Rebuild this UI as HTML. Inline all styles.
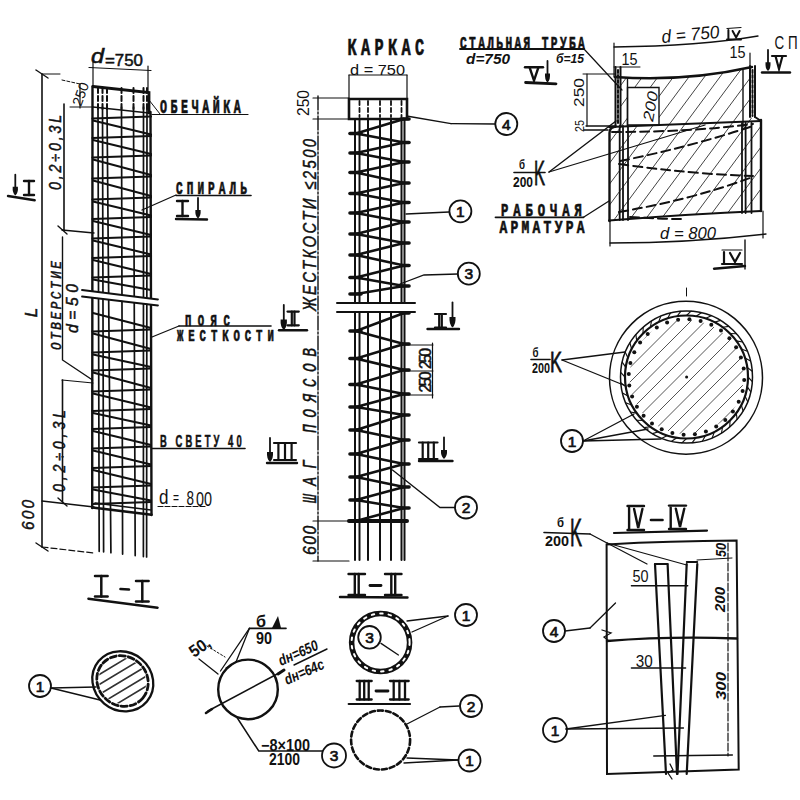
<!DOCTYPE html>
<html><head><meta charset="utf-8"><style>
html,body{margin:0;padding:0;background:#fff;width:800px;height:800px;overflow:hidden}
svg{display:block}
</style></head><body>
<svg width="800" height="800" viewBox="0 0 800 800" stroke-linecap="round">
<rect width="800" height="800" fill="#fff"/>
<line x1="98.0" y1="107.0" x2="99.2" y2="551.3" stroke="#111" stroke-width="1.7" />
<line x1="102.5" y1="107.0" x2="103.6" y2="551.8" stroke="#111" stroke-width="1.7" />
<line x1="107.0" y1="107.0" x2="110.9" y2="552.7" stroke="#111" stroke-width="1.7" />
<line x1="121.5" y1="107.0" x2="122.6" y2="554.1" stroke="#111" stroke-width="1.7" />
<line x1="133.5" y1="107.0" x2="135.2" y2="555.6" stroke="#111" stroke-width="1.7" />
<line x1="143.5" y1="107.0" x2="143.4" y2="556.6" stroke="#111" stroke-width="1.7" />
<line x1="147.0" y1="107.0" x2="146.6" y2="557.0" stroke="#111" stroke-width="1.7" />
<line x1="92.5" y1="86.5" x2="92.2" y2="508.0" stroke="#111" stroke-width="2.4" />
<line x1="150.5" y1="112.0" x2="151.5" y2="515.0" stroke="#111" stroke-width="2.4" />
<path d="M93,86.5 L149,92.5 L149,113" stroke="#111" stroke-width="2.8" fill="none" />
<line x1="93.0" y1="107.0" x2="149.0" y2="113.0" stroke="#111" stroke-width="1.6" />
<line x1="98.0" y1="88.0" x2="98.0" y2="112.0" stroke="#111" stroke-width="2.0" stroke-dasharray="5,3"/>
<line x1="102.5" y1="88.0" x2="102.5" y2="112.0" stroke="#111" stroke-width="2.0" stroke-dasharray="5,3"/>
<line x1="107.0" y1="88.0" x2="107.0" y2="112.0" stroke="#111" stroke-width="2.0" stroke-dasharray="5,3"/>
<line x1="121.5" y1="88.0" x2="121.5" y2="112.0" stroke="#111" stroke-width="2.0" stroke-dasharray="5,3"/>
<line x1="133.5" y1="88.0" x2="133.5" y2="112.0" stroke="#111" stroke-width="2.0" stroke-dasharray="5,3"/>
<line x1="143.5" y1="88.0" x2="143.5" y2="112.0" stroke="#111" stroke-width="2.0" stroke-dasharray="5,3"/>
<line x1="147.0" y1="88.0" x2="147.0" y2="112.0" stroke="#111" stroke-width="2.0" stroke-dasharray="5,3"/>
<line x1="92.2" y1="507.5" x2="151.5" y2="514.7" stroke="#111" stroke-width="2.6" />
<line x1="95.0" y1="503.0" x2="151.0" y2="510.0" stroke="#111" stroke-width="1.6" />
<line x1="92.5" y1="118.5" x2="151.0" y2="116.5" stroke="#111" stroke-width="2.2" />
<line x1="93.0" y1="120.5" x2="151.0" y2="134.5" stroke="#111" stroke-width="2.2" />
<line x1="92.5" y1="138.0" x2="151.0" y2="136.0" stroke="#111" stroke-width="2.2" />
<line x1="93.0" y1="140.0" x2="151.0" y2="154.0" stroke="#111" stroke-width="2.2" />
<line x1="92.5" y1="157.5" x2="151.0" y2="155.5" stroke="#111" stroke-width="2.2" />
<line x1="93.0" y1="159.5" x2="151.0" y2="175.0" stroke="#111" stroke-width="2.2" />
<line x1="92.5" y1="178.5" x2="151.0" y2="176.5" stroke="#111" stroke-width="2.2" />
<line x1="93.0" y1="180.5" x2="151.0" y2="196.0" stroke="#111" stroke-width="2.2" />
<line x1="92.5" y1="199.5" x2="151.0" y2="197.5" stroke="#111" stroke-width="2.2" />
<line x1="93.0" y1="201.5" x2="151.0" y2="215.5" stroke="#111" stroke-width="2.2" />
<line x1="92.5" y1="219.0" x2="151.0" y2="217.0" stroke="#111" stroke-width="2.2" />
<line x1="93.0" y1="221.0" x2="151.0" y2="235.0" stroke="#111" stroke-width="2.2" />
<line x1="92.5" y1="238.5" x2="151.0" y2="236.5" stroke="#111" stroke-width="2.2" />
<line x1="93.0" y1="240.5" x2="151.0" y2="254.5" stroke="#111" stroke-width="2.2" />
<line x1="92.5" y1="258.0" x2="151.0" y2="256.0" stroke="#111" stroke-width="2.2" />
<line x1="93.0" y1="260.0" x2="151.0" y2="274.0" stroke="#111" stroke-width="2.2" />
<line x1="92.5" y1="277.5" x2="151.0" y2="275.5" stroke="#111" stroke-width="2.2" />
<line x1="92.5" y1="331.5" x2="151.0" y2="329.5" stroke="#111" stroke-width="2.2" />
<line x1="93.0" y1="333.5" x2="151.0" y2="349.0" stroke="#111" stroke-width="2.2" />
<line x1="92.5" y1="352.5" x2="151.0" y2="350.5" stroke="#111" stroke-width="2.2" />
<line x1="93.0" y1="354.5" x2="151.0" y2="367.0" stroke="#111" stroke-width="2.2" />
<line x1="92.5" y1="370.5" x2="151.0" y2="368.5" stroke="#111" stroke-width="2.2" />
<line x1="93.0" y1="372.5" x2="151.0" y2="388.0" stroke="#111" stroke-width="2.2" />
<line x1="92.5" y1="391.5" x2="151.0" y2="389.5" stroke="#111" stroke-width="2.2" />
<line x1="93.0" y1="393.5" x2="151.0" y2="407.5" stroke="#111" stroke-width="2.2" />
<line x1="92.5" y1="411.0" x2="151.0" y2="409.0" stroke="#111" stroke-width="2.2" />
<line x1="93.0" y1="413.0" x2="151.0" y2="425.5" stroke="#111" stroke-width="2.2" />
<line x1="92.5" y1="429.0" x2="151.0" y2="427.0" stroke="#111" stroke-width="2.2" />
<line x1="93.0" y1="431.0" x2="151.0" y2="445.0" stroke="#111" stroke-width="2.2" />
<line x1="92.5" y1="448.5" x2="151.0" y2="446.5" stroke="#111" stroke-width="2.2" />
<line x1="93.0" y1="450.5" x2="151.0" y2="464.5" stroke="#111" stroke-width="2.2" />
<line x1="92.5" y1="468.0" x2="151.0" y2="466.0" stroke="#111" stroke-width="2.2" />
<line x1="93.0" y1="470.0" x2="151.0" y2="484.0" stroke="#111" stroke-width="2.2" />
<line x1="92.5" y1="487.5" x2="151.0" y2="485.5" stroke="#111" stroke-width="2.2" />
<line x1="93.0" y1="489.5" x2="151.0" y2="500.5" stroke="#111" stroke-width="2.2" />
<line x1="92.5" y1="504.0" x2="151.0" y2="502.0" stroke="#111" stroke-width="2.2" />
<line x1="93.0" y1="279.5" x2="151.0" y2="290.0" stroke="#111" stroke-width="2.2" />
<line x1="93.0" y1="313.0" x2="151.0" y2="328.0" stroke="#111" stroke-width="2.2" />
<polygon points="82.0,290.0 158.0,299.5 158.0,305.0 82.0,296.0" stroke="#111" stroke-width="0" fill="#fff" />
<line x1="82.0" y1="290.0" x2="158.0" y2="299.5" stroke="#111" stroke-width="1.8" />
<line x1="82.0" y1="296.5" x2="158.0" y2="305.5" stroke="#111" stroke-width="1.8" />
<line x1="89.0" y1="67.5" x2="151.0" y2="70.5" stroke="#111" stroke-width="1.2" />
<line x1="93.0" y1="62.0" x2="93.0" y2="86.0" stroke="#111" stroke-width="1.2" />
<line x1="148.0" y1="66.0" x2="148.0" y2="92.0" stroke="#111" stroke-width="1.2" />
<line x1="42.0" y1="74.0" x2="42.0" y2="547.0" stroke="#111" stroke-width="1.6" />
<line x1="36.0" y1="70.0" x2="48.0" y2="78.0" stroke="#111" stroke-width="1.4" />
<line x1="36.0" y1="543.0" x2="48.0" y2="551.0" stroke="#111" stroke-width="1.4" />
<line x1="42.0" y1="74.0" x2="60.0" y2="74.0" stroke="#111" stroke-width="1.0" />
<line x1="64.0" y1="104.0" x2="64.0" y2="230.0" stroke="#111" stroke-width="1.6" />
<line x1="62.5" y1="380.0" x2="62.5" y2="502.0" stroke="#111" stroke-width="1.6" />
<line x1="62.0" y1="230.0" x2="94.0" y2="233.0" stroke="#111" stroke-width="1.4" />
<line x1="42.0" y1="501.0" x2="94.0" y2="507.0" stroke="#111" stroke-width="1.4" />
<line x1="42.0" y1="547.0" x2="94.0" y2="553.0" stroke="#111" stroke-width="1.2" stroke-dasharray="6,3"/>
<line x1="58.0" y1="226.0" x2="67.0" y2="234.0" stroke="#111" stroke-width="1.4" />
<line x1="58.0" y1="498.0" x2="67.0" y2="506.0" stroke="#111" stroke-width="1.4" />
<line x1="80.0" y1="84.0" x2="80.0" y2="108.0" stroke="#111" stroke-width="1.2" />
<line x1="70.0" y1="107.0" x2="93.0" y2="107.0" stroke="#111" stroke-width="1.0" />
<line x1="62.0" y1="80.0" x2="80.0" y2="84.0" stroke="#111" stroke-width="1.0" stroke-dasharray="3,2"/>
<path d="M62.5,237 L62.5,360 L92.5,380" stroke="#111" stroke-width="1.4" fill="none" />
<line x1="62.0" y1="380.0" x2="93.0" y2="383.0" stroke="#111" stroke-width="1.2" />
<line x1="355.0" y1="119.0" x2="355.0" y2="560.0" stroke="#111" stroke-width="2.0" />
<line x1="359.5" y1="119.0" x2="359.5" y2="560.0" stroke="#111" stroke-width="2.0" />
<line x1="368.0" y1="119.0" x2="368.0" y2="560.0" stroke="#111" stroke-width="2.0" />
<line x1="380.0" y1="119.0" x2="380.0" y2="560.0" stroke="#111" stroke-width="2.0" />
<line x1="391.0" y1="119.0" x2="391.0" y2="560.0" stroke="#111" stroke-width="2.0" />
<line x1="401.5" y1="119.0" x2="401.5" y2="560.0" stroke="#111" stroke-width="2.0" />
<line x1="404.5" y1="119.0" x2="404.5" y2="560.0" stroke="#111" stroke-width="2.0" />
<polygon points="349.0,99.0 407.0,99.0 407.0,119.0 349.0,119.0" stroke="#111" stroke-width="2.6" fill="none" />
<line x1="359.5" y1="101.0" x2="359.5" y2="117.0" stroke="#111" stroke-width="1.8" stroke-dasharray="4,3"/>
<line x1="368.0" y1="101.0" x2="368.0" y2="117.0" stroke="#111" stroke-width="1.8" stroke-dasharray="4,3"/>
<line x1="380.0" y1="101.0" x2="380.0" y2="117.0" stroke="#111" stroke-width="1.8" stroke-dasharray="4,3"/>
<line x1="391.0" y1="101.0" x2="391.0" y2="117.0" stroke="#111" stroke-width="1.8" stroke-dasharray="4,3"/>
<line x1="401.5" y1="101.0" x2="401.5" y2="117.0" stroke="#111" stroke-width="1.8" stroke-dasharray="4,3"/>
<path d="M404,119 L356,133.5 L404,142.5 L356,153 L404,162 L356,172.5 L404,183 L356,193.5 L404,202.5 L356,213 L404,222 L356,234 L404,243 L356,255 L404,265.5 L356,277.5 L404,286 L356,294" stroke="#111" stroke-width="2.6" fill="none" />
<path d="M404,313 L356,331 L404,344 L356,358.5 L404,370 L356,384.5 L404,394 L356,407 L404,415 L356,430 L404,440 L356,454 L404,464 L356,477 L404,487 L356,500 L404,508 L356,521" stroke="#111" stroke-width="2.6" fill="none" />
<line x1="401.0" y1="119.0" x2="409.0" y2="119.0" stroke="#111" stroke-width="3.6" />
<line x1="350.0" y1="133.5" x2="361.0" y2="133.5" stroke="#111" stroke-width="3.6" />
<line x1="401.0" y1="142.5" x2="409.0" y2="142.5" stroke="#111" stroke-width="3.6" />
<line x1="350.0" y1="153.0" x2="361.0" y2="153.0" stroke="#111" stroke-width="3.6" />
<line x1="401.0" y1="162.0" x2="409.0" y2="162.0" stroke="#111" stroke-width="3.6" />
<line x1="350.0" y1="172.5" x2="361.0" y2="172.5" stroke="#111" stroke-width="3.6" />
<line x1="401.0" y1="183.0" x2="409.0" y2="183.0" stroke="#111" stroke-width="3.6" />
<line x1="350.0" y1="193.5" x2="361.0" y2="193.5" stroke="#111" stroke-width="3.6" />
<line x1="401.0" y1="202.5" x2="409.0" y2="202.5" stroke="#111" stroke-width="3.6" />
<line x1="350.0" y1="213.0" x2="361.0" y2="213.0" stroke="#111" stroke-width="3.6" />
<line x1="401.0" y1="222.0" x2="409.0" y2="222.0" stroke="#111" stroke-width="3.6" />
<line x1="350.0" y1="234.0" x2="361.0" y2="234.0" stroke="#111" stroke-width="3.6" />
<line x1="401.0" y1="243.0" x2="409.0" y2="243.0" stroke="#111" stroke-width="3.6" />
<line x1="350.0" y1="255.0" x2="361.0" y2="255.0" stroke="#111" stroke-width="3.6" />
<line x1="401.0" y1="265.5" x2="409.0" y2="265.5" stroke="#111" stroke-width="3.6" />
<line x1="350.0" y1="277.5" x2="361.0" y2="277.5" stroke="#111" stroke-width="3.6" />
<line x1="401.0" y1="286.0" x2="409.0" y2="286.0" stroke="#111" stroke-width="3.6" />
<line x1="350.0" y1="294.0" x2="361.0" y2="294.0" stroke="#111" stroke-width="3.6" />
<line x1="401.0" y1="313.0" x2="409.0" y2="313.0" stroke="#111" stroke-width="3.6" />
<line x1="350.0" y1="331.0" x2="361.0" y2="331.0" stroke="#111" stroke-width="3.6" />
<line x1="401.0" y1="344.0" x2="409.0" y2="344.0" stroke="#111" stroke-width="3.6" />
<line x1="350.0" y1="358.5" x2="361.0" y2="358.5" stroke="#111" stroke-width="3.6" />
<line x1="401.0" y1="370.0" x2="409.0" y2="370.0" stroke="#111" stroke-width="3.6" />
<line x1="350.0" y1="384.5" x2="361.0" y2="384.5" stroke="#111" stroke-width="3.6" />
<line x1="401.0" y1="394.0" x2="409.0" y2="394.0" stroke="#111" stroke-width="3.6" />
<line x1="350.0" y1="407.0" x2="361.0" y2="407.0" stroke="#111" stroke-width="3.6" />
<line x1="401.0" y1="415.0" x2="409.0" y2="415.0" stroke="#111" stroke-width="3.6" />
<line x1="350.0" y1="430.0" x2="361.0" y2="430.0" stroke="#111" stroke-width="3.6" />
<line x1="401.0" y1="440.0" x2="409.0" y2="440.0" stroke="#111" stroke-width="3.6" />
<line x1="350.0" y1="454.0" x2="361.0" y2="454.0" stroke="#111" stroke-width="3.6" />
<line x1="401.0" y1="464.0" x2="409.0" y2="464.0" stroke="#111" stroke-width="3.6" />
<line x1="350.0" y1="477.0" x2="361.0" y2="477.0" stroke="#111" stroke-width="3.6" />
<line x1="401.0" y1="487.0" x2="409.0" y2="487.0" stroke="#111" stroke-width="3.6" />
<line x1="350.0" y1="500.0" x2="361.0" y2="500.0" stroke="#111" stroke-width="3.6" />
<line x1="401.0" y1="508.0" x2="409.0" y2="508.0" stroke="#111" stroke-width="3.6" />
<line x1="350.0" y1="521.0" x2="361.0" y2="521.0" stroke="#111" stroke-width="3.6" />
<line x1="349.0" y1="521.0" x2="407.0" y2="521.0" stroke="#111" stroke-width="4.0" />
<rect x="336" y="303" width="80" height="9" fill="#fff"/>
<line x1="337.0" y1="303.0" x2="415.0" y2="303.0" stroke="#111" stroke-width="2.0" />
<line x1="337.0" y1="312.0" x2="415.0" y2="312.0" stroke="#111" stroke-width="2.0" />
<line x1="318.0" y1="96.0" x2="318.0" y2="561.0" stroke="#111" stroke-width="1.4" stroke-dasharray="14,2,2,2"/>
<line x1="313.0" y1="98.0" x2="349.0" y2="98.0" stroke="#111" stroke-width="1.2" />
<line x1="313.0" y1="119.0" x2="349.0" y2="119.0" stroke="#111" stroke-width="1.2" />
<line x1="313.0" y1="521.0" x2="349.0" y2="521.0" stroke="#111" stroke-width="1.2" />
<line x1="313.0" y1="561.0" x2="349.0" y2="561.0" stroke="#111" stroke-width="1.2" />
<line x1="349.0" y1="75.0" x2="407.0" y2="75.0" stroke="#111" stroke-width="1.2" />
<line x1="349.0" y1="75.0" x2="349.0" y2="99.0" stroke="#111" stroke-width="1.2" />
<line x1="407.0" y1="75.0" x2="407.0" y2="99.0" stroke="#111" stroke-width="1.2" />
<line x1="405.0" y1="345.0" x2="433.0" y2="345.0" stroke="#111" stroke-width="1.0" />
<line x1="405.0" y1="371.0" x2="433.0" y2="371.0" stroke="#111" stroke-width="1.0" />
<line x1="405.0" y1="395.0" x2="433.0" y2="395.0" stroke="#111" stroke-width="1.0" />
<line x1="432.5" y1="343.0" x2="432.5" y2="398.0" stroke="#111" stroke-width="1.2" />
<defs><clipPath id="cp1"><path d="M620,77 Q685,82 750,67 L750,117 L761,121 L761,211 Q690,214 609,220.5 L609,124 L620,124 Z"/></clipPath><clipPath id="cp2"><circle cx="686.5" cy="377" r="57"/></clipPath></defs>
<path d="M250.0,230 L376.0,60 M265.5,230 L391.5,60 M281.0,230 L407.0,60 M296.5,230 L422.5,60 M312.0,230 L438.0,60 M327.5,230 L453.5,60 M343.0,230 L469.0,60 M358.5,230 L484.5,60 M374.0,230 L500.0,60 M389.5,230 L515.5,60 M405.0,230 L531.0,60 M420.5,230 L546.5,60 M436.0,230 L562.0,60 M451.5,230 L577.5,60 M467.0,230 L593.0,60 M482.5,230 L608.5,60 M498.0,230 L624.0,60 M513.5,230 L639.5,60 M529.0,230 L655.0,60 M544.5,230 L670.5,60 M560.0,230 L686.0,60 M575.5,230 L701.5,60 M591.0,230 L717.0,60 M606.5,230 L732.5,60 M622.0,230 L748.0,60 M637.5,230 L763.5,60 M653.0,230 L779.0,60 M668.5,230 L794.5,60 M684.0,230 L810.0,60 M699.5,230 L825.5,60 M715.0,230 L841.0,60 M730.5,230 L856.5,60 M746.0,230 L872.0,60 M761.5,230 L887.5,60 M777.0,230 L903.0,60 M792.5,230 L918.5,60 M808.0,230 L934.0,60 M823.5,230 L949.5,60 M839.0,230 L965.0,60 M854.5,230 L980.5,60 M870.0,230 L996.0,60 M885.5,230 L1011.5,60 M901.0,230 L1027.0,60 M916.5,230 L1042.5,60 M932.0,230 L1058.0,60 M947.5,230 L1073.5,60 M963.0,230 L1089.0,60 M978.5,230 L1104.5,60 M994.0,230 L1120.0,60 M1009.5,230 L1135.5,60" stroke="#444" stroke-width="1.0" clip-path="url(#cp1)" fill="none"/>
<polygon points="627.5,87.5 659.0,87.5 659.0,125.0 627.5,125.0" stroke="#111" stroke-width="1.4" fill="#fff" />
<path d="M615,77 Q685,82 752,67" stroke="#111" stroke-width="2.4" fill="none" />
<line x1="615.5" y1="67.0" x2="615.5" y2="127.0" stroke="#111" stroke-width="2.0" />
<line x1="620.5" y1="67.0" x2="620.5" y2="127.0" stroke="#111" stroke-width="2.0" />
<line x1="618.0" y1="70.0" x2="618.0" y2="125.0" stroke="#111" stroke-width="2.0" stroke-dasharray="3,2"/>
<line x1="750.0" y1="66.0" x2="750.0" y2="117.0" stroke="#111" stroke-width="2.0" />
<line x1="755.0" y1="66.0" x2="755.0" y2="117.0" stroke="#111" stroke-width="2.0" />
<line x1="752.5" y1="70.0" x2="752.5" y2="116.0" stroke="#111" stroke-width="2.0" stroke-dasharray="3,2"/>
<line x1="627.5" y1="78.0" x2="627.5" y2="127.0" stroke="#111" stroke-width="1.4" />
<line x1="743.0" y1="70.0" x2="743.0" y2="127.0" stroke="#111" stroke-width="1.4" />
<path d="M609,127 Q690,124 761,121" stroke="#111" stroke-width="2.0" fill="none" />
<path d="M755,117 L761,121" stroke="#111" stroke-width="2.0" fill="none" />
<path d="M609.5,221 L609.5,133 Q609.5,128 614,127" stroke="#111" stroke-width="2.4" fill="none" />
<line x1="761.0" y1="120.0" x2="761.0" y2="211.0" stroke="#111" stroke-width="2.4" />
<line x1="619.7" y1="126.0" x2="619.7" y2="220.0" stroke="#111" stroke-width="1.8" />
<line x1="623.0" y1="126.0" x2="623.0" y2="220.0" stroke="#111" stroke-width="1.8" />
<line x1="628.0" y1="126.0" x2="628.0" y2="220.0" stroke="#111" stroke-width="1.8" />
<line x1="742.0" y1="123.0" x2="742.0" y2="213.0" stroke="#111" stroke-width="1.8" />
<line x1="745.6" y1="123.0" x2="745.6" y2="213.0" stroke="#111" stroke-width="1.8" />
<line x1="751.5" y1="123.0" x2="751.5" y2="213.0" stroke="#111" stroke-width="1.8" />
<path d="M609,220.5 Q690,214 761,211" stroke="#111" stroke-width="2.2" fill="none" />
<path d="M612,132 Q690,132 753,124" stroke="#111" stroke-width="2.0" fill="none" stroke-dasharray="9,5"/>
<path d="M620,161 Q690,147 753,126" stroke="#111" stroke-width="2.0" fill="none" stroke-dasharray="9,5"/>
<path d="M619,164 Q690,174 753,176" stroke="#111" stroke-width="2.0" fill="none" stroke-dasharray="9,5"/>
<path d="M619,212 Q690,200 750,178" stroke="#111" stroke-width="2.0" fill="none" stroke-dasharray="9,5"/>
<path d="M630,217 Q660,219 681,219" stroke="#111" stroke-width="2.0" fill="none" stroke-dasharray="9,5"/>
<path d="M614,47 Q700,46 758,36" stroke="#111" stroke-width="1.3" fill="none" />
<line x1="614.0" y1="43.0" x2="614.0" y2="77.0" stroke="#111" stroke-width="1.2" />
<line x1="614.0" y1="67.0" x2="640.0" y2="67.0" stroke="#111" stroke-width="1.0" />
<line x1="750.0" y1="53.0" x2="750.0" y2="66.0" stroke="#111" stroke-width="1.2" />
<line x1="587.0" y1="74.0" x2="587.0" y2="126.0" stroke="#111" stroke-width="1.2" />
<line x1="583.0" y1="74.0" x2="615.0" y2="74.0" stroke="#111" stroke-width="1.0" />
<line x1="586.0" y1="126.0" x2="616.0" y2="126.0" stroke="#111" stroke-width="1.3" />
<line x1="584.0" y1="130.0" x2="608.0" y2="130.0" stroke="#111" stroke-width="1.3" />
<path d="M610,243 Q690,243 766,234" stroke="#111" stroke-width="1.3" fill="none" />
<line x1="610.0" y1="221.0" x2="610.0" y2="246.0" stroke="#111" stroke-width="1.2" />
<line x1="763.0" y1="211.0" x2="763.0" y2="238.0" stroke="#111" stroke-width="1.2" />
<line x1="584.0" y1="49.0" x2="622.0" y2="90.0" stroke="#111" stroke-width="1.2" />
<line x1="549.0" y1="172.0" x2="616.0" y2="121.0" stroke="#111" stroke-width="1.4" />
<line x1="549.0" y1="172.0" x2="705.0" y2="125.0" stroke="#111" stroke-width="1.3" />
<line x1="583.5" y1="217.3" x2="609.0" y2="201.0" stroke="#111" stroke-width="1.3" />
<line x1="460.0" y1="49.0" x2="584.0" y2="49.0" stroke="#111" stroke-width="1.8" />
<line x1="514.0" y1="172.5" x2="545.0" y2="172.5" stroke="#111" stroke-width="1.6" />
<line x1="495.5" y1="217.3" x2="583.5" y2="217.3" stroke="#111" stroke-width="1.8" />
<line x1="406.5" y1="116.0" x2="451.0" y2="123.6" stroke="#111" stroke-width="1.3" />
<line x1="451.0" y1="123.6" x2="495.0" y2="124.0" stroke="#111" stroke-width="1.3" />
<line x1="406.0" y1="214.0" x2="449.0" y2="212.0" stroke="#111" stroke-width="1.3" />
<path d="M400,284 L424,275 L458,274" stroke="#111" stroke-width="1.3" fill="none" />
<path d="M392.5,470 L440,507.5 L455,507.5" stroke="#111" stroke-width="1.3" fill="none" />
<circle cx="686" cy="377.7" r="76.5" stroke="#111" stroke-width="1.5" fill="none" />
<circle cx="686.5" cy="377" r="66" stroke="#111" stroke-width="1.5" fill="none" />
<circle cx="686.5" cy="377" r="61.5" stroke="#111" stroke-width="2.2" fill="none" />
<path d="M455.0,470 L635.0,290 M469.5,470 L649.5,290 M484.0,470 L664.0,290 M498.5,470 L678.5,290 M513.0,470 L693.0,290 M527.5,470 L707.5,290 M542.0,470 L722.0,290 M556.5,470 L736.5,290 M571.0,470 L751.0,290 M585.5,470 L765.5,290 M600.0,470 L780.0,290 M614.5,470 L794.5,290 M629.0,470 L809.0,290 M643.5,470 L823.5,290 M658.0,470 L838.0,290 M672.5,470 L852.5,290 M687.0,470 L867.0,290 M701.5,470 L881.5,290 M716.0,470 L896.0,290 M730.5,470 L910.5,290 M745.0,470 L925.0,290 M759.5,470 L939.5,290" stroke="#555" stroke-width="1.0" clip-path="url(#cp2)" fill="none"/>
<circle cx="744.2" cy="379.9" r="2.0" fill="#111"/>
<circle cx="742.6" cy="391.1" r="2.0" fill="#111"/>
<circle cx="738.7" cy="401.8" r="2.0" fill="#111"/>
<circle cx="732.9" cy="411.5" r="2.0" fill="#111"/>
<circle cx="725.3" cy="419.9" r="2.0" fill="#111"/>
<circle cx="716.2" cy="426.6" r="2.0" fill="#111"/>
<circle cx="705.9" cy="431.4" r="2.0" fill="#111"/>
<circle cx="694.9" cy="434.2" r="2.0" fill="#111"/>
<circle cx="683.6" cy="434.7" r="2.0" fill="#111"/>
<circle cx="672.4" cy="433.1" r="2.0" fill="#111"/>
<circle cx="661.7" cy="429.2" r="2.0" fill="#111"/>
<circle cx="652.0" cy="423.4" r="2.0" fill="#111"/>
<circle cx="643.6" cy="415.8" r="2.0" fill="#111"/>
<circle cx="636.9" cy="406.7" r="2.0" fill="#111"/>
<circle cx="632.1" cy="396.4" r="2.0" fill="#111"/>
<circle cx="629.3" cy="385.4" r="2.0" fill="#111"/>
<circle cx="628.8" cy="374.1" r="2.0" fill="#111"/>
<circle cx="630.4" cy="362.9" r="2.0" fill="#111"/>
<circle cx="634.3" cy="352.2" r="2.0" fill="#111"/>
<circle cx="640.1" cy="342.5" r="2.0" fill="#111"/>
<circle cx="647.7" cy="334.1" r="2.0" fill="#111"/>
<circle cx="656.8" cy="327.4" r="2.0" fill="#111"/>
<circle cx="667.1" cy="322.6" r="2.0" fill="#111"/>
<circle cx="678.1" cy="319.8" r="2.0" fill="#111"/>
<circle cx="689.4" cy="319.3" r="2.0" fill="#111"/>
<circle cx="700.6" cy="320.9" r="2.0" fill="#111"/>
<circle cx="711.3" cy="324.8" r="2.0" fill="#111"/>
<circle cx="721.0" cy="330.6" r="2.0" fill="#111"/>
<circle cx="729.4" cy="338.2" r="2.0" fill="#111"/>
<circle cx="736.1" cy="347.3" r="2.0" fill="#111"/>
<circle cx="740.9" cy="357.6" r="2.0" fill="#111"/>
<circle cx="743.7" cy="368.6" r="2.0" fill="#111"/>
<line x1="748.0" y1="377.0" x2="752.3" y2="381.6" stroke="#111" stroke-width="1.1" />
<line x1="747.2" y1="386.6" x2="750.8" y2="391.9" stroke="#111" stroke-width="1.1" />
<line x1="745.0" y1="396.0" x2="747.7" y2="401.7" stroke="#111" stroke-width="1.1" />
<line x1="741.3" y1="404.9" x2="743.1" y2="411.0" stroke="#111" stroke-width="1.1" />
<line x1="736.3" y1="413.1" x2="737.1" y2="419.4" stroke="#111" stroke-width="1.1" />
<line x1="730.0" y1="420.5" x2="729.8" y2="426.8" stroke="#111" stroke-width="1.1" />
<line x1="722.6" y1="426.8" x2="721.5" y2="433.0" stroke="#111" stroke-width="1.1" />
<line x1="714.4" y1="431.8" x2="712.3" y2="437.8" stroke="#111" stroke-width="1.1" />
<line x1="705.5" y1="435.5" x2="702.5" y2="441.0" stroke="#111" stroke-width="1.1" />
<line x1="696.1" y1="437.7" x2="692.2" y2="442.7" stroke="#111" stroke-width="1.1" />
<line x1="686.5" y1="438.5" x2="681.9" y2="442.8" stroke="#111" stroke-width="1.1" />
<line x1="676.9" y1="437.7" x2="671.6" y2="441.3" stroke="#111" stroke-width="1.1" />
<line x1="667.5" y1="435.5" x2="661.8" y2="438.2" stroke="#111" stroke-width="1.1" />
<line x1="658.6" y1="431.8" x2="652.5" y2="433.6" stroke="#111" stroke-width="1.1" />
<line x1="650.4" y1="426.8" x2="644.1" y2="427.6" stroke="#111" stroke-width="1.1" />
<line x1="643.0" y1="420.5" x2="636.7" y2="420.3" stroke="#111" stroke-width="1.1" />
<line x1="636.7" y1="413.1" x2="630.5" y2="412.0" stroke="#111" stroke-width="1.1" />
<line x1="631.7" y1="404.9" x2="625.7" y2="402.8" stroke="#111" stroke-width="1.1" />
<line x1="628.0" y1="396.0" x2="622.5" y2="393.0" stroke="#111" stroke-width="1.1" />
<line x1="625.8" y1="386.6" x2="620.8" y2="382.7" stroke="#111" stroke-width="1.1" />
<line x1="625.0" y1="377.0" x2="620.7" y2="372.4" stroke="#111" stroke-width="1.1" />
<line x1="625.8" y1="367.4" x2="622.2" y2="362.1" stroke="#111" stroke-width="1.1" />
<line x1="628.0" y1="358.0" x2="625.3" y2="352.3" stroke="#111" stroke-width="1.1" />
<line x1="631.7" y1="349.1" x2="629.9" y2="343.0" stroke="#111" stroke-width="1.1" />
<line x1="636.7" y1="340.9" x2="635.9" y2="334.6" stroke="#111" stroke-width="1.1" />
<line x1="643.0" y1="333.5" x2="643.2" y2="327.2" stroke="#111" stroke-width="1.1" />
<line x1="650.4" y1="327.2" x2="651.5" y2="321.0" stroke="#111" stroke-width="1.1" />
<line x1="658.6" y1="322.2" x2="660.7" y2="316.2" stroke="#111" stroke-width="1.1" />
<line x1="667.5" y1="318.5" x2="670.5" y2="313.0" stroke="#111" stroke-width="1.1" />
<line x1="676.9" y1="316.3" x2="680.8" y2="311.3" stroke="#111" stroke-width="1.1" />
<line x1="686.5" y1="315.5" x2="691.1" y2="311.2" stroke="#111" stroke-width="1.1" />
<line x1="696.1" y1="316.3" x2="701.4" y2="312.7" stroke="#111" stroke-width="1.1" />
<line x1="705.5" y1="318.5" x2="711.2" y2="315.8" stroke="#111" stroke-width="1.1" />
<line x1="714.4" y1="322.2" x2="720.5" y2="320.4" stroke="#111" stroke-width="1.1" />
<line x1="722.6" y1="327.2" x2="728.9" y2="326.4" stroke="#111" stroke-width="1.1" />
<line x1="730.0" y1="333.5" x2="736.3" y2="333.7" stroke="#111" stroke-width="1.1" />
<line x1="736.3" y1="340.9" x2="742.5" y2="342.0" stroke="#111" stroke-width="1.1" />
<line x1="741.3" y1="349.1" x2="747.3" y2="351.2" stroke="#111" stroke-width="1.1" />
<line x1="745.0" y1="358.0" x2="750.5" y2="361.0" stroke="#111" stroke-width="1.1" />
<line x1="747.2" y1="367.4" x2="752.2" y2="371.3" stroke="#111" stroke-width="1.1" />
<circle cx="686.6" cy="377" r="1.5" fill="#111"/>
<line x1="686.5" y1="288.0" x2="686.5" y2="296.0" stroke="#111" stroke-width="1.0" />
<line x1="562.0" y1="360.0" x2="625.0" y2="352.0" stroke="#111" stroke-width="1.3" />
<line x1="562.0" y1="360.0" x2="626.0" y2="386.0" stroke="#111" stroke-width="1.3" />
<line x1="583.0" y1="441.0" x2="634.0" y2="414.0" stroke="#111" stroke-width="1.3" />
<line x1="583.0" y1="441.0" x2="648.0" y2="429.0" stroke="#111" stroke-width="1.3" />
<line x1="583.0" y1="441.0" x2="661.0" y2="439.0" stroke="#111" stroke-width="1.3" />
<ellipse cx="122.8" cy="681.3" rx="31.5" ry="29" stroke="#111" stroke-width="2.3" fill="none" transform="rotate(40 122.8 681.3)"/>
<ellipse cx="122.5" cy="681" rx="26.5" ry="24.5" stroke="#111" stroke-width="2.8" fill="none" stroke-dasharray="6,3" transform="rotate(40 122.5 681)"/>
<clipPath id="cp3"><ellipse cx="122.5" cy="681" rx="24.5" ry="22.5" transform="rotate(40 122.5 681)"/></clipPath>
<path d="M80,626 L165,575 M80,636 L165,585 M80,646 L165,595 M80,656 L165,605 M80,666 L165,615 M80,676 L165,625 M80,686 L165,635 M80,696 L165,645 M80,706 L165,655 M80,716 L165,665 M80,726 L165,675 M80,736 L165,685 M80,746 L165,695 M80,756 L165,705 M80,766 L165,715 M80,776 L165,725" stroke="#333" stroke-width="1.6" clip-path="url(#cp3)" fill="none"/>
<line x1="51.0" y1="688.0" x2="96.0" y2="687.0" stroke="#111" stroke-width="1.5" />
<line x1="51.0" y1="688.0" x2="100.0" y2="700.0" stroke="#111" stroke-width="1.5" />
<circle cx="248" cy="689.4" r="29.8" stroke="#111" stroke-width="2.4" fill="none" />
<line x1="208.0" y1="711.0" x2="280.0" y2="672.5" stroke="#111" stroke-width="1.5" />
<line x1="278.0" y1="674.0" x2="284.0" y2="670.0" stroke="#111" stroke-width="3" />
<line x1="212.0" y1="709.0" x2="206.0" y2="713.0" stroke="#111" stroke-width="2.6" />
<line x1="249.4" y1="628.4" x2="286.0" y2="628.4" stroke="#111" stroke-width="1.6" />
<path d="M249.4,628.4 L220.5,671" stroke="#111" stroke-width="1.3" fill="none" />
<path d="M249.4,628.4 L236,662" stroke="#111" stroke-width="1.3" fill="none" />
<path d="M226,668 L236,662" stroke="#111" stroke-width="1.3" fill="none" />
<line x1="199.0" y1="659.0" x2="218.0" y2="674.0" stroke="#111" stroke-width="1.3" />
<line x1="207.0" y1="646.0" x2="225.0" y2="657.0" stroke="#111" stroke-width="1.0" stroke-dasharray="2,2"/>
<line x1="294.0" y1="665.0" x2="327.0" y2="649.0" stroke="#111" stroke-width="1.4" />
<path d="M237,717.5 L258.75,751 L322.5,751" stroke="#111" stroke-width="1.5" fill="none" />
<circle cx="380.6" cy="642.5" r="29" stroke="#111" stroke-width="5.5" fill="none" />
<circle cx="380.6" cy="642.5" r="29" stroke="#fff" stroke-width="2" fill="none" stroke-dasharray="2.5,6"/>
<line x1="381.0" y1="643.4" x2="398.4" y2="655.0" stroke="#111" stroke-width="1.3" />
<line x1="407.0" y1="621.0" x2="448.0" y2="616.0" stroke="#111" stroke-width="1.3" />
<line x1="412.0" y1="632.0" x2="448.0" y2="616.0" stroke="#111" stroke-width="1.3" />
<circle cx="380.6" cy="740" r="29.5" stroke="#111" stroke-width="2.6" fill="none" stroke-dasharray="5,3"/>
<line x1="407.0" y1="724.0" x2="440.0" y2="707.0" stroke="#111" stroke-width="1.3" />
<line x1="440.0" y1="707.0" x2="459.0" y2="706.0" stroke="#111" stroke-width="1.3" />
<line x1="407.0" y1="758.0" x2="458.0" y2="760.0" stroke="#111" stroke-width="1.3" />
<line x1="404.0" y1="763.0" x2="458.0" y2="760.0" stroke="#111" stroke-width="1.3" />
<path d="M606.6,544.5 Q670,541 736.6,540.6 L738.7,769.6 Q670,772 607,774 Z" stroke="#111" stroke-width="2.0" fill="none" />
<path d="M607,641 Q670,636 737,638.5" stroke="#111" stroke-width="2.4" fill="none" />
<line x1="655.0" y1="564.0" x2="666.0" y2="774.0" stroke="#111" stroke-width="2.2" />
<line x1="667.6" y1="564.0" x2="677.0" y2="774.0" stroke="#111" stroke-width="2.2" />
<line x1="686.7" y1="564.0" x2="677.5" y2="774.0" stroke="#111" stroke-width="2.2" />
<line x1="697.3" y1="564.0" x2="686.7" y2="774.0" stroke="#111" stroke-width="2.2" />
<line x1="655.0" y1="564.0" x2="667.6" y2="564.0" stroke="#111" stroke-width="1.8" />
<line x1="686.7" y1="562.0" x2="697.3" y2="562.0" stroke="#111" stroke-width="1.8" />
<line x1="631.4" y1="585.7" x2="687.7" y2="585.7" stroke="#111" stroke-width="1.4" />
<line x1="631.4" y1="668.0" x2="685.6" y2="668.0" stroke="#111" stroke-width="1.4" />
<line x1="728.0" y1="543.0" x2="728.0" y2="756.0" stroke="#111" stroke-width="1.2" stroke-dasharray="8,2"/>
<line x1="697.0" y1="560.0" x2="732.0" y2="558.0" stroke="#111" stroke-width="1.0" />
<line x1="653.7" y1="756.0" x2="732.4" y2="755.0" stroke="#111" stroke-width="1.3" />
<line x1="590.0" y1="534.0" x2="607.0" y2="543.0" stroke="#111" stroke-width="1.3" />
<path d="M607,543 L647,564" stroke="#111" stroke-width="1.2" fill="none" />
<path d="M607,543 L686.7,565" stroke="#111" stroke-width="1.2" fill="none" />
<line x1="565.0" y1="631.0" x2="590.0" y2="628.0" stroke="#111" stroke-width="1.3" />
<line x1="590.0" y1="628.0" x2="615.5" y2="603.0" stroke="#111" stroke-width="1.3" />
<line x1="566.0" y1="729.0" x2="665.4" y2="715.4" stroke="#111" stroke-width="1.3" />
<line x1="566.0" y1="729.0" x2="683.5" y2="728.0" stroke="#111" stroke-width="1.3" />
<circle cx="40" cy="686" r="11" stroke="#111" stroke-width="1.8" fill="none" />
<text x="40" y="691.5" font-family="Liberation Sans" font-size="15.5" font-weight="normal" font-style="normal" text-anchor="middle" fill="#111" stroke="#111" stroke-width="0.7">1</text>
<circle cx="506.3" cy="124" r="11" stroke="#111" stroke-width="1.8" fill="none" />
<text x="506.3" y="129.5" font-family="Liberation Sans" font-size="15.5" font-weight="normal" font-style="normal" text-anchor="middle" fill="#111" stroke="#111" stroke-width="0.7">4</text>
<circle cx="460.4" cy="211.3" r="11" stroke="#111" stroke-width="1.8" fill="none" />
<text x="460.4" y="216.8" font-family="Liberation Sans" font-size="15.5" font-weight="normal" font-style="normal" text-anchor="middle" fill="#111" stroke="#111" stroke-width="0.7">1</text>
<circle cx="468.8" cy="273.7" r="11" stroke="#111" stroke-width="1.8" fill="none" />
<text x="468.8" y="279.2" font-family="Liberation Sans" font-size="15.5" font-weight="normal" font-style="normal" text-anchor="middle" fill="#111" stroke="#111" stroke-width="0.7">3</text>
<circle cx="466" cy="507.5" r="11" stroke="#111" stroke-width="1.8" fill="none" />
<text x="466" y="513.0" font-family="Liberation Sans" font-size="15.5" font-weight="normal" font-style="normal" text-anchor="middle" fill="#111" stroke="#111" stroke-width="0.7">2</text>
<circle cx="334" cy="755.5" r="12" stroke="#111" stroke-width="1.8" fill="none" />
<text x="334" y="761.0" font-family="Liberation Sans" font-size="15.5" font-weight="normal" font-style="normal" text-anchor="middle" fill="#111" stroke="#111" stroke-width="0.7">3</text>
<circle cx="466" cy="615" r="11" stroke="#111" stroke-width="1.8" fill="none" />
<text x="466" y="620.5" font-family="Liberation Sans" font-size="15.5" font-weight="normal" font-style="normal" text-anchor="middle" fill="#111" stroke="#111" stroke-width="0.7">1</text>
<circle cx="471" cy="706" r="11" stroke="#111" stroke-width="1.8" fill="none" />
<text x="471" y="711.5" font-family="Liberation Sans" font-size="15.5" font-weight="normal" font-style="normal" text-anchor="middle" fill="#111" stroke="#111" stroke-width="0.7">2</text>
<circle cx="469.5" cy="760.5" r="11" stroke="#111" stroke-width="1.8" fill="none" />
<text x="469.5" y="766.0" font-family="Liberation Sans" font-size="15.5" font-weight="normal" font-style="normal" text-anchor="middle" fill="#111" stroke="#111" stroke-width="0.7">1</text>
<circle cx="572" cy="441" r="11" stroke="#111" stroke-width="1.8" fill="none" />
<text x="572" y="446.5" font-family="Liberation Sans" font-size="15.5" font-weight="normal" font-style="normal" text-anchor="middle" fill="#111" stroke="#111" stroke-width="0.7">1</text>
<circle cx="554" cy="631" r="11" stroke="#111" stroke-width="1.8" fill="none" />
<text x="554" y="636.5" font-family="Liberation Sans" font-size="15.5" font-weight="normal" font-style="normal" text-anchor="middle" fill="#111" stroke="#111" stroke-width="0.7">4</text>
<circle cx="555" cy="730" r="12" stroke="#111" stroke-width="1.8" fill="none" />
<text x="555" y="735.5" font-family="Liberation Sans" font-size="15.5" font-weight="normal" font-style="normal" text-anchor="middle" fill="#111" stroke="#111" stroke-width="0.7">1</text>
<circle cx="369.5" cy="637.3" r="11.3" stroke="#111" stroke-width="1.8" fill="none" />
<text x="369.5" y="642.8" font-family="Liberation Sans" font-size="15.5" font-weight="normal" font-style="normal" text-anchor="middle" fill="#111" stroke="#111" stroke-width="0.7">3</text>
<text x="91" y="63" font-family="Liberation Sans" font-size="21" font-weight="normal" font-style="italic" text-anchor="start" textLength="13" lengthAdjust="spacingAndGlyphs" fill="#111" stroke="#111" stroke-width="0.6">d</text>
<text x="105" y="66" font-family="Liberation Sans" font-size="16.5" font-weight="normal" font-style="normal" text-anchor="start" textLength="38" lengthAdjust="spacingAndGlyphs" fill="#111" stroke="#111" stroke-width="0.5">=750</text>
<text x="0" y="0" transform="translate(160 113) scale(0.6 1)" font-family="Liberation Mono" font-size="19.40" font-weight="bold" font-style="normal" textLength="134.7" lengthAdjust="spacing" fill="#111" stroke="#111" stroke-width="0.7">ОБЕЧАЙКА</text>
<line x1="152.0" y1="114.5" x2="248.0" y2="114.5" stroke="#111" stroke-width="1.2" />
<line x1="149.0" y1="100.0" x2="160.0" y2="114.0" stroke="#111" stroke-width="1.0" />
<text x="0" y="0" transform="translate(176 194) scale(0.62 1)" font-family="Liberation Mono" font-size="17.91" font-weight="bold" font-style="normal" textLength="114.2" lengthAdjust="spacing" fill="#111" stroke="#111" stroke-width="0.7">СПИРАЛЬ</text>
<line x1="176.0" y1="195.5" x2="251.0" y2="195.5" stroke="#111" stroke-width="1.6" />
<line x1="176.0" y1="195.0" x2="142.0" y2="210.0" stroke="#111" stroke-width="1.3" />
<text x="0" y="0" transform="translate(185 325.5) scale(0.62 1)" font-family="Liberation Mono" font-size="17.16" font-weight="bold" font-style="normal" textLength="72.2" lengthAdjust="spacing" fill="#111" stroke="#111" stroke-width="0.7">ПОЯС</text>
<line x1="179.0" y1="326.0" x2="271.0" y2="326.0" stroke="#111" stroke-width="1.6" />
<line x1="179.0" y1="326.0" x2="152.0" y2="337.0" stroke="#111" stroke-width="1.3" />
<text x="0" y="0" transform="translate(177 341) scale(0.62 1)" font-family="Liberation Mono" font-size="17.16" font-weight="bold" font-style="normal" textLength="156.1" lengthAdjust="spacing" fill="#111" stroke="#111" stroke-width="0.7">ЖЕСТКОСТИ</text>
<text x="0" y="0" transform="translate(160 447) scale(0.6 1)" font-family="Liberation Sans" font-size="15.71" font-weight="bold" font-style="normal" textLength="136.1" lengthAdjust="spacing" fill="#111" stroke="#111" stroke-width="0.5">В СВЕТУ 40</text>
<line x1="152.0" y1="448.5" x2="245.0" y2="448.5" stroke="#111" stroke-width="1.6" />
<text x="159" y="504" font-family="Liberation Sans" font-size="21" font-weight="normal" font-style="normal" text-anchor="start" textLength="9.5" lengthAdjust="spacingAndGlyphs" fill="#111" >d</text>
<text x="173" y="503" font-family="Liberation Sans" font-size="16" font-weight="normal" font-style="normal" text-anchor="start" textLength="6" lengthAdjust="spacingAndGlyphs" fill="#111" >=</text>
<text x="186.5" y="504.5" font-family="Liberation Sans" font-size="20" font-weight="normal" font-style="normal" text-anchor="start" textLength="7.5" lengthAdjust="spacingAndGlyphs" fill="#111" >8</text>
<text x="196" y="506" font-family="Liberation Sans" font-size="20" font-weight="normal" font-style="normal" text-anchor="start" textLength="16" lengthAdjust="spacingAndGlyphs" fill="#111" >00</text>
<line x1="158.0" y1="506.5" x2="206.0" y2="506.5" stroke="#111" stroke-width="1.2" stroke-dasharray="5,2"/>
<text x="0" y="0" transform="translate(347.5 54.5) scale(0.62 1)" font-family="Liberation Mono" font-size="24.63" font-weight="bold" font-style="normal" textLength="123.5" lengthAdjust="spacing" fill="#111" stroke="#111" stroke-width="0.7">КАРКАС</text>
<text x="350" y="75" font-family="Liberation Sans" font-size="15" font-weight="normal" font-style="normal" text-anchor="start" textLength="55" lengthAdjust="spacingAndGlyphs" fill="#111" >d = 750</text>
<text x="0" y="0" transform="translate(460 48.5) scale(0.6 1)" font-family="Liberation Mono" font-size="18.66" font-weight="bold" font-style="normal" textLength="208.0" lengthAdjust="spacing" fill="#111" stroke="#111" stroke-width="0.7">СТАЛЬНАЯ ТРУБА</text>
<text x="466" y="64" font-family="Liberation Sans" font-size="15" font-weight="bold" font-style="italic" text-anchor="start" textLength="44" lengthAdjust="spacingAndGlyphs" fill="#111" >d=750</text>
<text x="556" y="62.5" font-family="Liberation Sans" font-size="12" font-weight="bold" font-style="italic" text-anchor="start" textLength="28" lengthAdjust="spacingAndGlyphs" fill="#111" >б=15</text>
<text x="662" y="43" font-family="Liberation Sans" font-size="18" font-weight="normal" font-style="italic" text-anchor="start" textLength="58" lengthAdjust="spacingAndGlyphs" transform="rotate(-5 662 43)" fill="#111" >d = 750</text>
<line x1="727.0" y1="39.5" x2="741.0" y2="39.5" stroke="#111" stroke-width="2.0" />
<line x1="728.4" y1="30.0" x2="728.4" y2="38.5" stroke="#111" stroke-width="2.0" />
<path d="M732.6,31.0 L736.1,37.5 L739.6,31.0" stroke="#111" stroke-width="2.0" fill="none" />
<line x1="727.0" y1="28.5" x2="741.0" y2="27.5" stroke="#111" stroke-width="1.2" />
<text x="621.5" y="65" font-family="Liberation Sans" font-size="16" font-weight="normal" font-style="normal" text-anchor="start" textLength="16" lengthAdjust="spacingAndGlyphs" fill="#111" >15</text>
<text x="729.5" y="57.5" font-family="Liberation Sans" font-size="16" font-weight="normal" font-style="normal" text-anchor="start" textLength="16" lengthAdjust="spacingAndGlyphs" fill="#111" >15</text>
<text x="774.5" y="48.5" font-family="Liberation Sans" font-size="18" font-weight="normal" font-style="normal" text-anchor="start" textLength="23" lengthAdjust="spacingAndGlyphs" fill="#111" >С П</text>
<text x="584" y="107" font-family="Liberation Sans" font-size="15" font-weight="normal" font-style="normal" text-anchor="start" textLength="29" lengthAdjust="spacingAndGlyphs" transform="rotate(-90 584 107)" fill="#111" >250</text>
<text x="584" y="132" font-family="Liberation Sans" font-size="12" font-weight="normal" font-style="normal" text-anchor="start" textLength="12" lengthAdjust="spacingAndGlyphs" transform="rotate(-90 584 132)" fill="#111" >25</text>
<text x="653" y="122" font-family="Liberation Sans" font-size="15" font-weight="normal" font-style="italic" text-anchor="start" textLength="30" lengthAdjust="spacingAndGlyphs" transform="rotate(-80 653 122)" fill="#111" >200</text>
<text x="519" y="169" font-family="Liberation Sans" font-size="12" font-weight="bold" font-style="normal" text-anchor="start" textLength="6" lengthAdjust="spacingAndGlyphs" fill="#111" >б</text>
<text x="513" y="186.5" font-family="Liberation Sans" font-size="14" font-weight="bold" font-style="normal" text-anchor="start" textLength="20" lengthAdjust="spacingAndGlyphs" fill="#111" >200</text>
<text x="534" y="185" font-family="Liberation Sans" font-size="35" font-weight="normal" font-style="normal" text-anchor="start" textLength="11" lengthAdjust="spacingAndGlyphs" fill="#111" stroke="#111" stroke-width="0.8">K</text>
<text x="0" y="0" transform="translate(501 216.3) scale(0.7 1)" font-family="Liberation Mono" font-size="17.46" font-weight="bold" font-style="normal" textLength="115.5" lengthAdjust="spacing" fill="#111" stroke="#111" stroke-width="0.7">РАБОЧАЯ</text>
<text x="0" y="0" transform="translate(499.6 232.8) scale(0.7 1)" font-family="Liberation Mono" font-size="18.51" font-weight="bold" font-style="normal" textLength="121.2" lengthAdjust="spacing" fill="#111" stroke="#111" stroke-width="0.7">АРМАТУРА</text>
<text x="660" y="239" font-family="Liberation Sans" font-size="16" font-weight="normal" font-style="italic" text-anchor="start" textLength="56" lengthAdjust="spacingAndGlyphs" fill="#111" >d = 800</text>
<text x="532.5" y="357" font-family="Liberation Sans" font-size="12" font-weight="bold" font-style="normal" text-anchor="start" textLength="6" lengthAdjust="spacingAndGlyphs" fill="#111" >б</text>
<line x1="531.0" y1="359.5" x2="550.0" y2="359.5" stroke="#111" stroke-width="1.6" />
<text x="532" y="372.5" font-family="Liberation Sans" font-size="15" font-weight="bold" font-style="normal" text-anchor="start" textLength="18" lengthAdjust="spacingAndGlyphs" fill="#111" >200</text>
<text x="550" y="372" font-family="Liberation Sans" font-size="30" font-weight="normal" font-style="normal" text-anchor="start" textLength="12" lengthAdjust="spacingAndGlyphs" fill="#111" stroke="#111" stroke-width="0.8">K</text>
<text x="557" y="527" font-family="Liberation Sans" font-size="12" font-weight="bold" font-style="normal" text-anchor="start" textLength="7" lengthAdjust="spacingAndGlyphs" fill="#111" >б</text>
<line x1="544.0" y1="532.5" x2="590.0" y2="534.0" stroke="#111" stroke-width="1.6" />
<text x="545" y="546" font-family="Liberation Sans" font-size="15" font-weight="bold" font-style="normal" text-anchor="start" textLength="24" lengthAdjust="spacingAndGlyphs" fill="#111" >200</text>
<text x="570" y="546" font-family="Liberation Sans" font-size="38" font-weight="normal" font-style="normal" text-anchor="start" textLength="12" lengthAdjust="spacingAndGlyphs" fill="#111" stroke="#111" stroke-width="0.8">K</text>
<text x="632.5" y="582" font-family="Liberation Sans" font-size="16" font-weight="normal" font-style="normal" text-anchor="start" textLength="16" lengthAdjust="spacingAndGlyphs" fill="#111" >50</text>
<text x="635.7" y="666.5" font-family="Liberation Sans" font-size="17" font-weight="normal" font-style="normal" text-anchor="start" textLength="17" lengthAdjust="spacingAndGlyphs" fill="#111" >30</text>
<text x="726" y="557" font-family="Liberation Sans" font-size="14" font-weight="bold" font-style="italic" text-anchor="start" textLength="14" lengthAdjust="spacingAndGlyphs" transform="rotate(-90 726 557)" fill="#111" >50</text>
<text x="725" y="612" font-family="Liberation Sans" font-size="14" font-weight="bold" font-style="italic" text-anchor="start" textLength="25" lengthAdjust="spacingAndGlyphs" transform="rotate(-90 725 612)" fill="#111" >200</text>
<text x="725.5" y="700" font-family="Liberation Sans" font-size="14" font-weight="bold" font-style="italic" text-anchor="start" textLength="28" lengthAdjust="spacingAndGlyphs" transform="rotate(-90 725.5 700)" fill="#111" >300</text>
<path d="M670,764 L673,770 L668,773 L672,779" stroke="#111" stroke-width="1.3" fill="none" />
<path d="M602,630 L611,633 L604,637 L609,641" stroke="#111" stroke-width="1.3" fill="none" />
<text x="256" y="627" font-family="Liberation Sans" font-size="16" font-weight="bold" font-style="normal" text-anchor="start" textLength="10" lengthAdjust="spacingAndGlyphs" fill="#111" >б</text>
<polygon points="272,628 278,616 281,628" fill="#111"/>
<text x="256" y="643.5" font-family="Liberation Sans" font-size="17" font-weight="bold" font-style="normal" text-anchor="start" textLength="16" lengthAdjust="spacingAndGlyphs" fill="#111" >90</text>
<text x="194" y="658" font-family="Liberation Sans" font-size="17" font-weight="bold" font-style="normal" text-anchor="start" textLength="22" lengthAdjust="spacingAndGlyphs" transform="rotate(-35 194 658)" fill="#111" >50,</text>
<text x="281" y="666" font-family="Liberation Sans" font-size="15" font-weight="bold" font-style="italic" text-anchor="start" textLength="42" lengthAdjust="spacingAndGlyphs" transform="rotate(-24 281 666)" fill="#111" >dн=650</text>
<text x="287" y="685" font-family="Liberation Sans" font-size="15" font-weight="bold" font-style="italic" text-anchor="start" textLength="42" lengthAdjust="spacingAndGlyphs" transform="rotate(-24 287 685)" fill="#111" >dн=64c</text>
<text x="261" y="750.5" font-family="Liberation Sans" font-size="16" font-weight="bold" font-style="normal" text-anchor="start" textLength="49" lengthAdjust="spacingAndGlyphs" fill="#111" >−8×100</text>
<text x="269" y="765" font-family="Liberation Sans" font-size="16" font-weight="bold" font-style="normal" text-anchor="start" textLength="31" lengthAdjust="spacingAndGlyphs" fill="#111" >2100</text>
<text x="0" y="0" transform="translate(61 190) rotate(-90) scale(0.9 1)" font-family="Liberation Sans" font-size="15.71" font-weight="normal" font-style="italic" textLength="83.4" lengthAdjust="spacing" fill="#111" stroke="#111" stroke-width="0.5">0,2÷0,3L</text>
<text x="0" y="0" transform="translate(65 492) rotate(-90) scale(0.9 1)" font-family="Liberation Sans" font-size="15.71" font-weight="normal" font-style="italic" textLength="91.1" lengthAdjust="spacing" fill="#111" stroke="#111" stroke-width="0.5">0,2÷0,3L</text>
<text x="81" y="107" font-family="Liberation Sans" font-size="14" font-weight="normal" font-style="normal" text-anchor="start" textLength="24" lengthAdjust="spacingAndGlyphs" transform="rotate(-70 81 107)" fill="#111" >250</text>
<text x="0" y="0" transform="translate(37 318) rotate(-90) scale(1.0 1)" font-family="Liberation Mono" font-size="17.91" font-weight="normal" font-style="italic" textLength="13.3" lengthAdjust="spacing" fill="#111" stroke="#111" stroke-width="0.5">L</text>
<text x="0" y="0" transform="translate(61 350) rotate(-90) scale(0.85 1)" font-family="Liberation Mono" font-size="14.93" font-weight="normal" font-style="italic" textLength="104.6" lengthAdjust="spacing" fill="#111" stroke="#111" stroke-width="0.5">ОТВЕРСТИЕ</text>
<text x="0" y="0" transform="translate(77.5 333) rotate(-90) scale(1.0 1)" font-family="Liberation Sans" font-size="15.71" font-weight="normal" font-style="italic" textLength="49.1" lengthAdjust="spacing" fill="#111" stroke="#111" stroke-width="0.5">d=50</text>
<text x="0" y="0" transform="translate(34 530) rotate(-90) scale(0.9 1)" font-family="Liberation Sans" font-size="17.14" font-weight="normal" font-style="italic" textLength="33.5" lengthAdjust="spacing" fill="#111" stroke="#111" stroke-width="0.5">600</text>
<text x="309" y="116" font-family="Liberation Sans" font-size="16" font-weight="normal" font-style="normal" text-anchor="start" textLength="26" lengthAdjust="spacingAndGlyphs" transform="rotate(-90 309 116)" fill="#111" >250</text>
<text x="0" y="0" transform="translate(315.5 311) rotate(-90) scale(0.8 1)" font-family="Liberation Sans" font-size="18.57" font-weight="normal" font-style="italic" textLength="215.1" lengthAdjust="spacing" fill="#111" stroke="#111" stroke-width="0.5">ЖЕСТКОСТИ ≤2500</text>
<text x="0" y="0" transform="translate(315.5 433) rotate(-90) scale(0.75 1)" font-family="Liberation Mono" font-size="19.40" font-weight="normal" font-style="italic" textLength="113.4" lengthAdjust="spacing" fill="#111" stroke="#111" stroke-width="0.5">ПОЯСОВ</text>
<text x="0" y="0" transform="translate(315.5 503) rotate(-90) scale(0.75 1)" font-family="Liberation Mono" font-size="19.40" font-weight="normal" font-style="italic" textLength="57.4" lengthAdjust="spacing" fill="#111" stroke="#111" stroke-width="0.5">ШАГ</text>
<text x="0" y="0" transform="translate(315.5 555) rotate(-90) scale(0.85 1)" font-family="Liberation Sans" font-size="18.57" font-weight="normal" font-style="italic" textLength="34.3" lengthAdjust="spacing" fill="#111" stroke="#111" stroke-width="0.5">600</text>
<text x="0" y="0" transform="translate(431 392.5) rotate(-90) scale(0.9 1)" font-family="Liberation Sans" font-size="17.14" font-weight="normal" font-style="normal" textLength="23.5" lengthAdjust="spacing" fill="#111" stroke="#111" stroke-width="0.5">250</text>
<text x="0" y="0" transform="translate(431 369) rotate(-90) scale(0.9 1)" font-family="Liberation Sans" font-size="17.14" font-weight="normal" font-style="normal" textLength="23.5" lengthAdjust="spacing" fill="#111" stroke="#111" stroke-width="0.5">250</text>
<line x1="15.3" y1="174.7" x2="15.3" y2="193.5" stroke="#111" stroke-width="1.8" />
<path d="M12.7,186.8 Q12.2,192.9 15.3,195.5 Q18.4,192.9 17.9,186.8 Z" fill="#111"/>
<line x1="24.0" y1="181.0" x2="34.0" y2="181.0" stroke="#111" stroke-width="2.4" />
<line x1="24.0" y1="195.0" x2="34.0" y2="195.0" stroke="#111" stroke-width="2.4" />
<line x1="29.0" y1="181.0" x2="29.0" y2="195.0" stroke="#111" stroke-width="2.4" />
<line x1="8.0" y1="196.0" x2="34.7" y2="200.3" stroke="#111" stroke-width="2.4" />
<line x1="198.0" y1="198.0" x2="198.0" y2="216.5" stroke="#111" stroke-width="1.8" />
<path d="M195.4,209.9 Q194.9,215.9 198.0,218.5 Q201.1,215.9 200.6,209.9 Z" fill="#111"/>
<line x1="177.0" y1="201.0" x2="188.0" y2="201.0" stroke="#111" stroke-width="2.4" />
<line x1="177.0" y1="216.0" x2="188.0" y2="216.0" stroke="#111" stroke-width="2.4" />
<line x1="182.5" y1="201.0" x2="182.5" y2="216.0" stroke="#111" stroke-width="2.4" />
<line x1="176.0" y1="219.0" x2="207.0" y2="219.5" stroke="#111" stroke-width="2.4" />
<line x1="283.8" y1="305.0" x2="283.8" y2="328.0" stroke="#111" stroke-width="1.8" />
<path d="M280.6,319.5 Q280.1,326.9 283.8,330.0 Q287.4,326.9 286.9,319.5 Z" fill="#111"/>
<line x1="287.5" y1="311.6" x2="298.8" y2="311.6" stroke="#111" stroke-width="2.2" />
<line x1="287.5" y1="325.3" x2="298.8" y2="325.3" stroke="#111" stroke-width="2.2" />
<line x1="291.8" y1="311.6" x2="291.8" y2="325.3" stroke="#111" stroke-width="2.2" />
<line x1="294.5" y1="311.6" x2="294.5" y2="325.3" stroke="#111" stroke-width="2.2" />
<line x1="279.0" y1="330.3" x2="307.0" y2="330.3" stroke="#111" stroke-width="2.4" />
<line x1="452.5" y1="302.5" x2="452.5" y2="325.5" stroke="#111" stroke-width="1.8" />
<path d="M449.5,317.0 Q449.0,324.4 452.5,327.5 Q456.0,324.4 455.5,317.0 Z" fill="#111"/>
<line x1="435.0" y1="314.0" x2="446.0" y2="314.0" stroke="#111" stroke-width="2.2" />
<line x1="435.0" y1="327.5" x2="446.0" y2="327.5" stroke="#111" stroke-width="2.2" />
<line x1="439.2" y1="314.0" x2="439.2" y2="327.5" stroke="#111" stroke-width="2.2" />
<line x1="441.8" y1="314.0" x2="441.8" y2="327.5" stroke="#111" stroke-width="2.2" />
<line x1="427.5" y1="329.0" x2="459.0" y2="329.0" stroke="#111" stroke-width="2.4" />
<line x1="270.0" y1="438.0" x2="270.0" y2="460.0" stroke="#111" stroke-width="1.8" />
<path d="M267.0,451.9 Q266.5,459.0 270.0,462.0 Q273.5,459.0 273.0,451.9 Z" fill="#111"/>
<line x1="274.0" y1="443.0" x2="296.0" y2="443.0" stroke="#111" stroke-width="2.2" />
<line x1="274.0" y1="460.0" x2="296.0" y2="460.0" stroke="#111" stroke-width="2.2" />
<line x1="278.4" y1="443.0" x2="278.4" y2="460.0" stroke="#111" stroke-width="2.2" />
<line x1="285.0" y1="443.0" x2="285.0" y2="460.0" stroke="#111" stroke-width="2.2" />
<line x1="291.6" y1="443.0" x2="291.6" y2="460.0" stroke="#111" stroke-width="2.2" />
<line x1="267.0" y1="463.0" x2="297.0" y2="463.0" stroke="#111" stroke-width="2.4" />
<line x1="444.0" y1="437.5" x2="444.0" y2="457.0" stroke="#111" stroke-width="1.8" />
<path d="M441.0,450.0 Q440.5,456.3 444.0,459.0 Q447.5,456.3 447.0,450.0 Z" fill="#111"/>
<line x1="419.0" y1="442.5" x2="437.5" y2="442.5" stroke="#111" stroke-width="2.2" />
<line x1="419.0" y1="459.0" x2="437.5" y2="459.0" stroke="#111" stroke-width="2.2" />
<line x1="422.7" y1="442.5" x2="422.7" y2="459.0" stroke="#111" stroke-width="2.2" />
<line x1="428.2" y1="442.5" x2="428.2" y2="459.0" stroke="#111" stroke-width="2.2" />
<line x1="433.8" y1="442.5" x2="433.8" y2="459.0" stroke="#111" stroke-width="2.2" />
<line x1="419.0" y1="461.0" x2="452.5" y2="461.0" stroke="#111" stroke-width="2.4" />
<line x1="547.5" y1="61.0" x2="547.5" y2="80.5" stroke="#111" stroke-width="1.8" />
<path d="M545.0,73.5 Q544.5,79.8 547.5,82.5 Q550.5,79.8 550.0,73.5 Z" fill="#111"/>
<line x1="525.0" y1="67.2" x2="543.0" y2="67.2" stroke="#111" stroke-width="2.4" />
<path d="M529.5,67.2 L534.0,80.6 L538.5,67.2" stroke="#111" stroke-width="2.4" fill="none" />
<line x1="525.6" y1="82.5" x2="556.0" y2="83.8" stroke="#111" stroke-width="2.8" />
<line x1="768.0" y1="50.0" x2="768.0" y2="69.0" stroke="#111" stroke-width="1.8" />
<path d="M765.5,62.2 Q765.0,68.4 768.0,71.0 Q771.0,68.4 770.5,62.2 Z" fill="#111"/>
<line x1="772.0" y1="56.0" x2="786.0" y2="56.0" stroke="#111" stroke-width="2.2" />
<path d="M775.5,56.0 L779.0,69.0 L782.5,56.0" stroke="#111" stroke-width="2.2" fill="none" />
<line x1="762.0" y1="72.5" x2="790.0" y2="72.5" stroke="#111" stroke-width="2.4" />
<line x1="722.0" y1="264.0" x2="742.0" y2="264.0" stroke="#111" stroke-width="2.2" />
<line x1="724.0" y1="252.0" x2="724.0" y2="263.0" stroke="#111" stroke-width="2.2" />
<path d="M730.0,253.0 L735.0,262.0 L740.0,253.0" stroke="#111" stroke-width="2.2" fill="none" />
<line x1="722.0" y1="250.0" x2="742.0" y2="250.0" stroke="#111" stroke-width="1.2" />
<line x1="714.0" y1="268.7" x2="745.0" y2="266.0" stroke="#111" stroke-width="2.4" />
<line x1="745.0" y1="240.0" x2="745.0" y2="269.0" stroke="#111" stroke-width="1.4" />
<line x1="95.0" y1="576.0" x2="107.6" y2="576.0" stroke="#111" stroke-width="2.5" />
<line x1="95.0" y1="596.5" x2="107.6" y2="596.5" stroke="#111" stroke-width="2.5" />
<line x1="101.3" y1="576.0" x2="101.3" y2="596.5" stroke="#111" stroke-width="2.5" />
<line x1="136.0" y1="581.0" x2="148.6" y2="581.0" stroke="#111" stroke-width="2.5" />
<line x1="136.0" y1="601.5" x2="148.6" y2="601.5" stroke="#111" stroke-width="2.5" />
<line x1="142.3" y1="581.0" x2="142.3" y2="601.5" stroke="#111" stroke-width="2.5" />
<line x1="120.5" y1="589.0" x2="129.0" y2="589.5" stroke="#111" stroke-width="2.6" />
<line x1="88.4" y1="598.7" x2="157.6" y2="607.7" stroke="#111" stroke-width="2.4" />
<line x1="348.5" y1="574.0" x2="365.0" y2="574.0" stroke="#111" stroke-width="2.4" />
<line x1="348.5" y1="595.0" x2="365.0" y2="595.0" stroke="#111" stroke-width="2.4" />
<line x1="354.8" y1="574.0" x2="354.8" y2="595.0" stroke="#111" stroke-width="2.4" />
<line x1="358.7" y1="574.0" x2="358.7" y2="595.0" stroke="#111" stroke-width="2.4" />
<line x1="385.0" y1="574.0" x2="401.5" y2="574.0" stroke="#111" stroke-width="2.4" />
<line x1="385.0" y1="595.0" x2="401.5" y2="595.0" stroke="#111" stroke-width="2.4" />
<line x1="391.3" y1="574.0" x2="391.3" y2="595.0" stroke="#111" stroke-width="2.4" />
<line x1="395.2" y1="574.0" x2="395.2" y2="595.0" stroke="#111" stroke-width="2.4" />
<line x1="370.0" y1="585.5" x2="381.0" y2="585.5" stroke="#111" stroke-width="2.8" />
<line x1="340.0" y1="597.0" x2="407.5" y2="597.5" stroke="#111" stroke-width="2.4" />
<line x1="356.7" y1="681.0" x2="371.7" y2="681.0" stroke="#111" stroke-width="2.3" />
<line x1="356.7" y1="699.5" x2="371.7" y2="699.5" stroke="#111" stroke-width="2.3" />
<line x1="359.7" y1="681.0" x2="359.7" y2="699.5" stroke="#111" stroke-width="2.3" />
<line x1="364.2" y1="681.0" x2="364.2" y2="699.5" stroke="#111" stroke-width="2.3" />
<line x1="368.7" y1="681.0" x2="368.7" y2="699.5" stroke="#111" stroke-width="2.3" />
<line x1="390.0" y1="681.0" x2="408.7" y2="681.0" stroke="#111" stroke-width="2.3" />
<line x1="390.0" y1="699.5" x2="408.7" y2="699.5" stroke="#111" stroke-width="2.3" />
<line x1="393.7" y1="681.0" x2="393.7" y2="699.5" stroke="#111" stroke-width="2.3" />
<line x1="399.4" y1="681.0" x2="399.4" y2="699.5" stroke="#111" stroke-width="2.3" />
<line x1="405.0" y1="681.0" x2="405.0" y2="699.5" stroke="#111" stroke-width="2.3" />
<line x1="376.0" y1="691.0" x2="388.0" y2="691.0" stroke="#111" stroke-width="2.8" />
<line x1="348.7" y1="704.0" x2="410.0" y2="704.0" stroke="#111" stroke-width="2.2" />
<line x1="627.5" y1="506.0" x2="644.0" y2="506.0" stroke="#111" stroke-width="2.4" />
<line x1="627.5" y1="530.0" x2="644.0" y2="530.0" stroke="#111" stroke-width="2.4" />
<line x1="629.1" y1="508.0" x2="629.1" y2="529.0" stroke="#111" stroke-width="2.4" />
<path d="M634.1,509.0 L638.2,528.0 L642.4,509.0" stroke="#111" stroke-width="2.4" fill="none" />
<line x1="669.0" y1="505.6" x2="686.0" y2="505.6" stroke="#111" stroke-width="2.4" />
<line x1="669.0" y1="529.0" x2="686.0" y2="529.0" stroke="#111" stroke-width="2.4" />
<line x1="670.7" y1="507.6" x2="670.7" y2="528.0" stroke="#111" stroke-width="2.4" />
<path d="M675.8,508.6 L680.0,527.0 L684.3,508.6" stroke="#111" stroke-width="2.4" fill="none" />
<line x1="651.0" y1="520.0" x2="662.5" y2="520.0" stroke="#111" stroke-width="2.6" />
<line x1="614.0" y1="533.0" x2="707.0" y2="530.6" stroke="#111" stroke-width="2.2" />
</svg></body></html>
